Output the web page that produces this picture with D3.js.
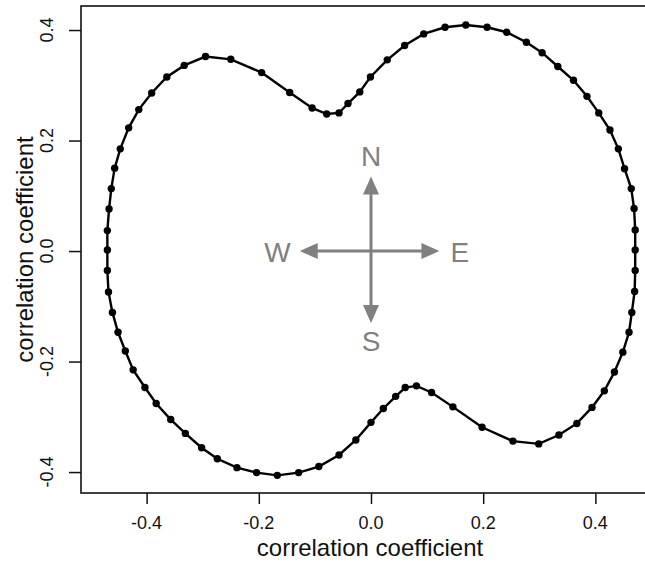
<!DOCTYPE html>
<html>
<head>
<meta charset="utf-8">
<script src="https://cdn.jsdelivr.net/npm/d3@7"></script>
<style>
  body { margin: 0; background: #fff; }
  text { font-family: "Liberation Sans", Arial, Helvetica, sans-serif; }
</style>
</head>
<body>
<script>
var width = 645;
var height = 563;

// correlation coefficients, read clockwise from the leftmost point
var xCoef = [-0.470, -0.470, -0.470, -0.467, -0.463, -0.457, -0.447, -0.432, -0.414, -0.391,
             -0.364, -0.333, -0.295, -0.250, -0.195, -0.145, -0.105, -0.079, -0.057, -0.041,
             -0.020, -0.001, 0.029, 0.060, 0.094, 0.132, 0.169, 0.207, 0.242, 0.277,
             0.305, 0.333, 0.361, 0.385, 0.406, 0.426, 0.441, 0.452, 0.464, 0.469,
             0.471, 0.471, 0.471, 0.470, 0.465, 0.460, 0.449, 0.434, 0.416, 0.394,
             0.367, 0.335, 0.299, 0.253, 0.198, 0.146, 0.108, 0.081, 0.061, 0.044,
             0.022, 0.000, -0.027, -0.057, -0.093, -0.129, -0.167, -0.204, -0.239, -0.274,
             -0.302, -0.331, -0.357, -0.383, -0.403, -0.424, -0.438, -0.451, -0.461, -0.468];
var yCoef = [-0.035, 0.002, 0.037, 0.076, 0.113, 0.150, 0.185, 0.223, 0.256, 0.286,
             0.315, 0.336, 0.352, 0.347, 0.323, 0.287, 0.259, 0.248, 0.250, 0.267,
             0.288, 0.315, 0.346, 0.372, 0.393, 0.405, 0.409, 0.405, 0.396, 0.378,
             0.359, 0.334, 0.309, 0.280, 0.250, 0.219, 0.185, 0.149, 0.113, 0.077,
             0.038, 0.002, -0.035, -0.073, -0.111, -0.147, -0.183, -0.219, -0.253, -0.283,
             -0.312, -0.333, -0.349, -0.344, -0.319, -0.282, -0.256, -0.244, -0.247, -0.263,
             -0.285, -0.310, -0.342, -0.369, -0.390, -0.401, -0.406, -0.401, -0.392, -0.376,
             -0.356, -0.330, -0.305, -0.276, -0.247, -0.215, -0.181, -0.147, -0.111, -0.074];

var tickValues = [-0.4, -0.2, 0.0, 0.2, 0.4];
var tickLabels = ["-0.4", "-0.2", "0.0", "0.2", "0.4"];

var compassDirs = ["N", "E", "S", "W"];
var compassDx = [0, 0.122, 0, -0.127];
var compassDy = [0.135, 0, -0.130, 0];

var axisTitle = "correlation coefficient";

var margin = {top: 6, left: 81, right: -16, bottom: 70};

var svg = d3.select("body")
  .append("svg")
  .attr("width", width)
  .attr("height", height);

var xScale = d3.scaleLinear()
  .domain([-0.517, 0.517])
  .range([margin.left, width - margin.right]);

var yScale = d3.scaleLinear()
  .domain([-0.4379, 0.4435])
  .range([height - margin.bottom, margin.top]);

var points = xCoef.map(function(x, i) { return {x: x, y: yCoef[i]}; });

// plot box (right edge falls outside the picture)
svg.append("rect")
  .attr("x", margin.left)
  .attr("y", margin.top)
  .attr("width", (width - margin.right) - margin.left)
  .attr("height", (height - margin.bottom) - margin.top)
  .attr("fill", "none")
  .attr("stroke", "#111")
  .attr("stroke-width", 1.6);

var xAxis = svg.append("g")
  .attr("transform", "translate(0," + (height - margin.bottom) + ")")
  .call(d3.axisBottom(xScale).tickValues(tickValues).tickSize(11).tickFormat(""));
xAxis.select(".domain").remove();
xAxis.selectAll("line").attr("stroke", "#111").attr("stroke-width", 1.5);

var yAxis = svg.append("g")
  .attr("transform", "translate(" + margin.left + ",0)")
  .call(d3.axisLeft(yScale).tickValues(tickValues).tickSize(12).tickFormat(""));
yAxis.select(".domain").remove();
yAxis.selectAll("line").attr("stroke", "#111").attr("stroke-width", 1.5);

svg.append("g").selectAll("text")
  .data(tickValues)
  .enter()
  .append("text")
    .attr("x", function(d) { return xScale(d); })
    .attr("y", 529)
    .attr("text-anchor", "middle")
    .attr("font-size", 18)
    .attr("fill", "#111")
    .text(function(d, i) { return tickLabels[i]; });

svg.append("g").selectAll("text")
  .data(tickValues)
  .enter()
  .append("text")
    .attr("transform", function(d) { return "translate(53," + yScale(d) + ") rotate(-90)"; })
    .attr("text-anchor", "middle")
    .attr("font-size", 18)
    .attr("fill", "#111")
    .text(function(d, i) { return tickLabels[i]; });

svg.append("text")
  .attr("x", (margin.left + 661) / 2 - 1)
  .attr("y", 556)
  .attr("text-anchor", "middle")
  .attr("font-size", 24)
  .attr("fill", "#111")
  .text(axisTitle);

svg.append("text")
  .attr("transform", "translate(33," + (margin.top + height - margin.bottom) / 2 + ") rotate(-90)")
  .attr("text-anchor", "middle")
  .attr("font-size", 24)
  .attr("fill", "#111")
  .text(axisTitle);

// compass cross
var grey = "#808080";
var cx = xScale(0), cy = yScale(0);
var compass = svg.append("g");
compassDirs.forEach(function(dir, i) {
  var tx = xScale(compassDx[i]), ty = yScale(compassDy[i]);
  var ang = Math.atan2(ty - cy, tx - cx);
  var len = 18, half = 8;
  var bx = tx - len * Math.cos(ang), by = ty - len * Math.sin(ang);
  compass.append("line")
    .attr("x1", cx).attr("y1", cy)
    .attr("x2", bx + 2 * Math.cos(ang)).attr("y2", by + 2 * Math.sin(ang))
    .attr("stroke", grey)
    .attr("stroke-width", 3);
  compass.append("polygon")
    .attr("points", [
      [tx, ty],
      [bx - half * Math.sin(ang), by + half * Math.cos(ang)],
      [bx + half * Math.sin(ang), by - half * Math.cos(ang)]
    ].map(function(p) { return p.join(","); }).join(" "))
    .attr("fill", grey);
  var lx = tx, ly = ty, anchor = "middle";
  if (dir === "N") { ly = ty - 10; }
  if (dir === "S") { ly = ty + 28; }
  if (dir === "E") { lx = tx + 11; ly = ty + 11; anchor = "start"; }
  if (dir === "W") { lx = tx - 9; ly = ty + 11; anchor = "end"; }
  compass.append("text")
    .attr("x", lx)
    .attr("y", ly)
    .attr("text-anchor", anchor)
    .attr("font-size", 28)
    .attr("fill", grey)
    .text(dir);
});

// the closed curve and its points
var line = d3.line()
  .x(function(d) { return xScale(d.x); })
  .y(function(d) { return yScale(d.y); })
  .curve(d3.curveLinearClosed);

svg.append("path")
  .datum(points)
  .attr("d", line)
  .attr("fill", "none")
  .attr("stroke", "black")
  .attr("stroke-width", 2.4);

svg.selectAll("circle")
  .data(points)
  .enter()
  .append("circle")
    .attr("cx", function(d) { return xScale(d.x); })
    .attr("cy", function(d) { return yScale(d.y); })
    .attr("r", 3.7)
    .attr("fill", "black");
</script>
</body>
</html>
